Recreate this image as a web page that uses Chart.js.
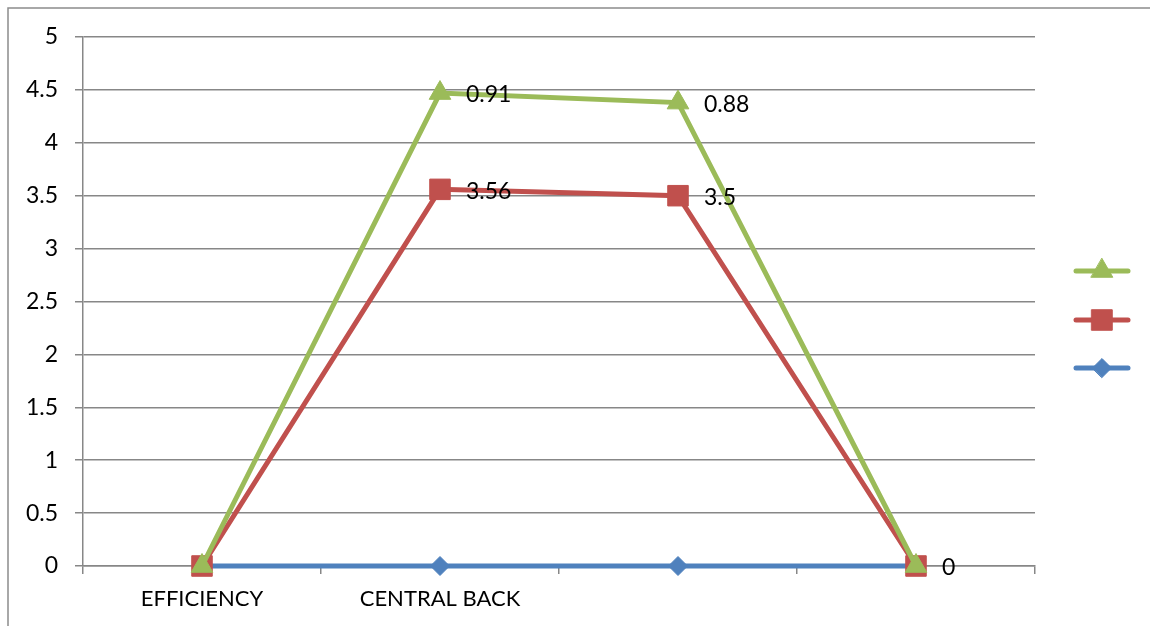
<!DOCTYPE html>
<html>
<head>
    <title>Stacked Line Chart</title>
    <script src="https://cdn.jsdelivr.net/npm/chart.js"></script>
    <style>
        html, body { margin: 0; padding: 0; background: #fff; }
        canvas { display: block; }
    </style>
</head>
<body>
    <canvas id="line-chart" width="1150" height="626"></canvas>

    <script>
        // chart data
        const categories = ['EFFICIENCY', 'CENTRAL BACK', '', ''];
        const blueValues = [0, 0, 0, 0];
        const redValues = [0, 3.56, 3.5, 0];
        const greenValues = [0, 0.91, 0.88, 0];
        const redLabels = ['', '3.56', '3.5', '0'];
        const greenLabels = ['', '0.91', '0.88', ''];
        const yTickLabels = ['0', '0.5', '1', '1.5', '2', '2.5', '3', '3.5', '4', '4.5', '5'];

        const FONT = 'Lato, "Open Sans", sans-serif';
        const GRID = '#878787';

        // gray frame around the chart (cut off at right / bottom)
        const framePlugin = {
            id: 'frame',
            beforeDraw(chart) {
                const ctx = chart.ctx;
                ctx.save();
                ctx.strokeStyle = '#8c8c8c';
                ctx.lineWidth = 1.5;
                ctx.strokeRect(8, 8, 2000, 2000);
                ctx.restore();
            }
        };

        // draw first dataset first so the top of the stack sits on top
        const drawOrderPlugin = {
            id: 'drawOrder',
            beforeDatasetsDraw(chart) {
                for (let i = 0; i < chart.data.datasets.length; i++) {
                    chart.getDatasetMeta(i).controller.draw();
                }
                return false;
            }
        };

        // value labels next to the points
        const valueLabelPlugin = {
            id: 'valueLabels',
            afterDraw(chart) {
                const ctx = chart.ctx;
                ctx.save();
                ctx.font = '23px ' + FONT;
                ctx.fillStyle = '#000';
                ctx.textAlign = 'left';
                ctx.textBaseline = 'middle';
                [[1, redLabels], [2, greenLabels]].forEach(([dsIndex, labels]) => {
                    const meta = chart.getDatasetMeta(dsIndex);
                    labels.forEach((text, i) => {
                        if (!text) return;
                        const pt = meta.data[i];
                        ctx.fillText(text, pt.x + 26, pt.y + 2);
                    });
                });
                ctx.restore();
            }
        };

        // legend on the right: line + marker, no text
        const sideLegendPlugin = {
            id: 'sideLegend',
            afterDraw(chart) {
                const ctx = chart.ctx;
                const rows = [[2, 271], [1, 320], [0, 368]];
                rows.forEach(([dsIndex, y]) => {
                    const ds = chart.data.datasets[dsIndex];
                    ctx.save();
                    ctx.strokeStyle = ds.borderColor;
                    ctx.lineWidth = 5;
                    ctx.lineCap = 'round';
                    ctx.beginPath();
                    ctx.moveTo(1076, y);
                    ctx.lineTo(1128, y);
                    ctx.stroke();
                    ctx.fillStyle = ds.borderColor;
                    ctx.lineWidth = 1;
                    Chart.helpers.drawPoint(ctx, {
                        pointStyle: ds.pointStyle,
                        radius: ds.pointRadius,
                        rotation: 0,
                        borderWidth: 1
                    }, 1102, y);
                    ctx.restore();
                });
            }
        };

        function series(data, color, style, radius) {
            return {
                data: data,
                borderColor: color,
                backgroundColor: color,
                pointBackgroundColor: color,
                pointBorderColor: color,
                pointBorderWidth: 1,
                borderWidth: 5,
                pointStyle: style,
                pointRadius: radius,
                tension: 0,
                clip: false,
                fill: false
            };
        }

        new Chart(document.getElementById('line-chart'), {
            type: 'line',
            data: {
                labels: categories,
                datasets: [
                    series(blueValues, '#4F81BD', 'rectRot', 9.5),
                    series(redValues, '#C0504D', 'rect', 14.5),
                    series(greenValues, '#9BBB59', 'triangle', 12.5)
                ]
            },
            options: {
                responsive: false,
                animation: false,
                events: [],
                layout: { padding: { left: 0, top: 37, right: 115, bottom: 0 } },
                plugins: {
                    legend: { display: false },
                    tooltip: { enabled: false }
                },
                scales: {
                    x: {
                        offset: true,
                        grid: {
                            offset: true,
                            drawOnChartArea: false,
                            tickLength: 8,
                            color: GRID,
                            lineWidth: 1.5
                        },
                        border: { color: GRID, width: 1.5 },
                        ticks: {
                            autoSkip: false,
                            maxRotation: 0,
                            padding: 12,
                            color: '#000',
                            font: { family: FONT, size: 22 }
                        },
                        afterFit: (scale) => { scale.height = 60; }
                    },
                    y: {
                        stacked: true,
                        min: 0,
                        max: 5,
                        grid: {
                            tickLength: 8,
                            color: GRID,
                            lineWidth: 1.5
                        },
                        border: { color: GRID, width: 1.5 },
                        ticks: {
                            stepSize: 0.5,
                            padding: 17,
                            color: '#000',
                            font: { family: FONT, size: 23 },
                            callback: (value, index) => yTickLabels[index]
                        },
                        afterFit: (scale) => { scale.width = 83; }
                    }
                }
            },
            plugins: [framePlugin, drawOrderPlugin, valueLabelPlugin, sideLegendPlugin]
        });
    </script>
</body>
</html>
